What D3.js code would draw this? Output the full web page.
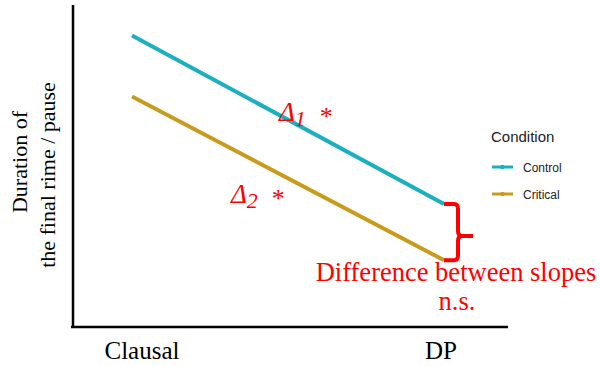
<!DOCTYPE html>
<html>
<head>
<meta charset="utf-8">
<script src="https://cdn.jsdelivr.net/npm/d3@7"></script>
<style>
  body { margin: 0; background: #fff; }
  svg { display: block; }
  .serif { font-family: "Liberation Serif", "Times New Roman", serif; }
  .sans { font-family: "Liberation Sans", Arial, Helvetica, sans-serif; }
</style>
</head>
<body>
<div id="chart"></div>
<script>
// categories and the two condition series (arbitrary units)
const categories = ["Clausal", "DP"];
const conditions = ["Control", "Critical"];
const controlValues = [9.05, 3.8];
const criticalValues = [7.15, 2.05];
const colors = ["#1ab0bf", "#c99b1c"];

const width = 600, height = 366;

const svg = d3.select("#chart").append("svg")
    .attr("width", width)
    .attr("height", height);

const x = d3.scalePoint().domain(categories).range([132, 444]);
const xLabel = d3.scalePoint().domain(categories).range([142, 441]);
const y = d3.scaleLinear().domain([0, 10]).range([326, 5]);

// axes (plain lines, no ticks)
svg.append("line")
    .attr("x1", 73).attr("x2", 73)
    .attr("y1", y(10)).attr("y2", y(0))
    .attr("stroke", "#000").attr("stroke-width", 2.5);
svg.append("line")
    .attr("x1", 71).attr("x2", 508)
    .attr("y1", y(0) + 1).attr("y2", y(0) + 1)
    .attr("stroke", "#000").attr("stroke-width", 2.5);

// category labels
svg.selectAll(".cat")
    .data(categories)
    .enter().append("text")
    .attr("class", "cat serif")
    .attr("x", d => xLabel(d))
    .attr("y", 359)
    .attr("text-anchor", "middle")
    .attr("font-size", 25)
    .text(d => d);

// y label, two lines
const yl = svg.append("g").attr("class", "serif");
yl.append("text")
    .attr("transform", "translate(27,162) rotate(-90)")
    .attr("text-anchor", "middle")
    .attr("font-size", 22)
    .text("Duration of");
yl.append("text")
    .attr("transform", "translate(55,175) rotate(-90)")
    .attr("text-anchor", "middle")
    .attr("font-size", 22)
    .text("the final rime / pause");

// lines
const series = [controlValues, criticalValues];
const line = d3.line()
    .x((d, i) => x(categories[i]))
    .y(d => y(d));

svg.selectAll(".series")
    .data(series)
    .enter().append("path")
    .attr("class", "series")
    .attr("d", d => line(d))
    .attr("fill", "none")
    .attr("stroke", (d, i) => colors[i])
    .attr("stroke-width", 4);

// brace between the DP ends
const xe = x("DP");
const yTop = y(controlValues[1]), yBot = y(criticalValues[1]);
const ym = (yTop + yBot) / 2 + 4;
const bx = xe + 14;
svg.append("path")
    .attr("d", `M${xe},${yTop} L${bx - 4},${yTop} Q${bx},${yTop} ${bx},${yTop + 5}
                L${bx},${ym - 5} Q${bx},${ym} ${bx + 4},${ym} L${bx + 15},${ym}
                M${bx + 4},${ym} Q${bx},${ym} ${bx},${ym + 5}
                L${bx},${yBot - 5} Q${bx},${yBot} ${bx - 4},${yBot} L${xe},${yBot}`)
    .attr("fill", "none")
    .attr("stroke", "#ff0000")
    .attr("stroke-width", 4);

// annotations
const red = "#ff0000";
function delta(xp, yp, sub) {
    const t = svg.append("text")
        .attr("class", "serif")
        .attr("x", xp).attr("y", yp)
        .attr("fill", red)
        .attr("font-size", 27)
        .attr("font-style", "italic");
    t.append("tspan").text("\u0394");
    t.append("tspan").attr("font-size", 22).attr("dy", 5).text(sub);
    t.append("tspan").attr("font-style", "normal").attr("font-size", 26)
        .attr("dx", 14).attr("dy", -1).text("*");
}
delta(279, 121, "1");
delta(231, 203, "2");

svg.append("text")
    .attr("class", "serif")
    .attr("x", 456).attr("y", 281)
    .attr("text-anchor", "middle")
    .attr("fill", red)
    .attr("font-size", 26.5)
    .text("Difference between slopes");
svg.append("text")
    .attr("class", "serif")
    .attr("x", 457).attr("y", 310)
    .attr("text-anchor", "middle")
    .attr("fill", red)
    .attr("font-size", 26.5)
    .text("n.s.");

// legend
const lg = svg.append("g").attr("class", "sans");
lg.append("text")
    .attr("x", 491).attr("y", 142)
    .attr("font-size", 15)
    .attr("fill", "#222")
    .text("Condition");
const items = lg.selectAll(".item")
    .data(conditions)
    .enter().append("g")
    .attr("transform", (d, i) => `translate(492,${167 + i * 27})`);
items.append("line")
    .attr("x1", 0).attr("x2", 21)
    .attr("stroke", (d, i) => colors[i])
    .attr("stroke-width", 3);
items.append("circle")
    .attr("cx", 10.5).attr("r", 2.2)
    .attr("fill", (d, i) => colors[i]);
items.append("text")
    .attr("x", 31).attr("y", 4.5)
    .attr("font-size", 12)
    .attr("fill", "#222")
    .text(d => d);
</script>
</body>
</html>
